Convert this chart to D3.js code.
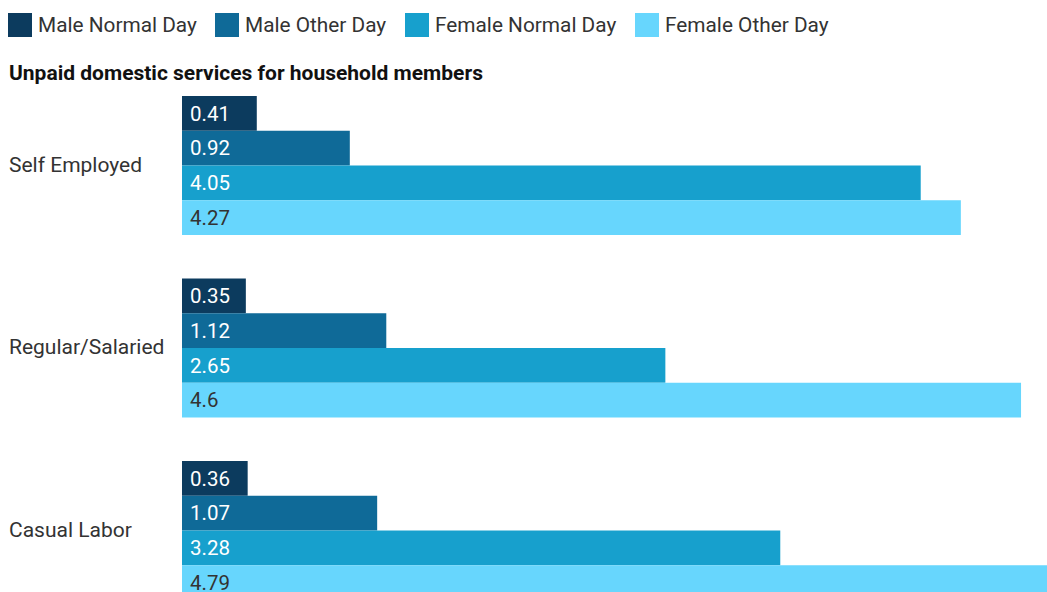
<!DOCTYPE html>
<html>
<head>
<meta charset="utf-8">
<script src="https://cdn.jsdelivr.net/npm/d3@7"></script>
<style>
  html, body { margin: 0; padding: 0; background: #fff; overflow: hidden; }
  svg { display: block; font-family: Roboto, "Noto Sans", sans-serif; }
</style>
</head>
<body>
<svg id="chart" width="1047" height="592"></svg>
<script>
// Hours per day spent on unpaid domestic services, by employment type
const categories = ["Self Employed", "Regular/Salaried", "Casual Labor"];
const series = ["Male Normal Day", "Male Other Day", "Female Normal Day", "Female Other Day"];
const maleNormal   = [0.41, 0.35, 0.36];
const maleOther    = [0.92, 1.12, 1.07];
const femaleNormal = [4.05, 2.65, 3.28];
const femaleOther  = [4.27, 4.6, 4.79];
const title = "Unpaid domestic services for household members";

const seriesValues = [maleNormal, maleOther, femaleNormal, femaleOther];
const colors = ["#0c3b5e", "#0f6a98", "#17a0cd", "#67d6fd"];
const labelColors = ["#ffffff", "#ffffff", "#ffffff", "#333333"];

const svg = d3.select("#chart");

const color = d3.scaleOrdinal().domain(series).range(colors);

// Legend
const legendX = [8, 215, 405, 635];
const legend = svg.append("g").attr("class", "legend");
series.forEach((s, i) => {
  const g = legend.append("g").attr("transform", `translate(${legendX[i]},13)`);
  g.append("rect").attr("width", 24).attr("height", 24).attr("fill", color(s));
  g.append("text")
    .attr("x", 30).attr("y", 12).attr("dy", "0.35em")
    .attr("font-size", 20.8).attr("fill", "#333")
    .text(s);
});

// Title
svg.append("text")
  .attr("x", 9).attr("y", 80)
  .attr("font-size", 21).attr("font-weight", "bold").attr("fill", "#111")
  .text(title);

// Scales
const y0 = d3.scaleBand().domain(categories).range([96, 600]).paddingInner(0.2384).paddingOuter(0);
const y1 = d3.scaleBand().domain(series).range([0, y0.bandwidth()]).padding(0);
const x = d3.scaleLinear().domain([0, 5]).range([182, 1094]);

// Category labels
svg.append("g").selectAll("text")
  .data(categories)
  .join("text")
  .attr("x", 9)
  .attr("y", d => y0(d) + y0.bandwidth() / 2 - 1)
  .attr("dy", "0.35em")
  .attr("font-size", 21).attr("fill", "#333")
  .text(d => d);

// Bars
const rows = [];
categories.forEach((c, ci) => {
  series.forEach((s, si) => rows.push({ c, s, si, v: seriesValues[si][ci] }));
});

const groups = svg.append("g").selectAll("g")
  .data(rows)
  .join("g")
  .attr("transform", d => `translate(0,${y0(d.c) + y1(d.s)})`);

groups.append("rect")
  .attr("x", x(0))
  .attr("width", d => x(d.v) - x(0))
  .attr("height", y1.bandwidth())
  .attr("fill", d => color(d.s));

groups.append("text")
  .attr("x", x(0) + 8)
  .attr("y", y1.bandwidth() / 2)
  .attr("dy", "0.35em")
  .attr("font-size", 20.5)
  .attr("fill", d => labelColors[d.si])
  .text(d => d.v);
</script>
</body>
</html>
